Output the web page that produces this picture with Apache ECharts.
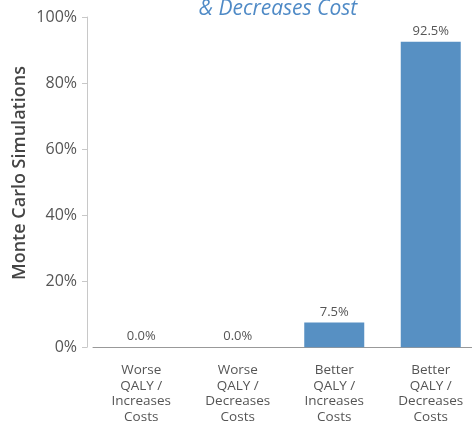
<!DOCTYPE html>
<html><head><meta charset="utf-8">
<script src="https://cdn.jsdelivr.net/npm/echarts@6/dist/echarts.min.js"></script>
<style>html,body{margin:0;padding:0;background:#fff;overflow:hidden}#c{width:479px;height:425px}</style>
</head><body><div id="c"></div>
<script>
const categories = ["Worse\nQALY /\nIncreases\nCosts","Worse\nQALY /\nDecreases\nCosts","Better\nQALY /\nIncreases\nCosts","Better\nQALY /\nDecreases\nCosts"];
const values = [0.0, 0.0, 7.5, 92.5];
const yTicks = [0, 20, 40, 60, 80, 100];
const yName = 'Monte Carlo Simulations';

const chart = echarts.init(document.getElementById('c'));
chart.setOption({
  animation: false,
  title: {
    text: "& Decreases Cost",
    left: 273, top: -6,
    textAlign: 'center',
    textStyle: {fontFamily: 'Open Sans', fontStyle: 'italic', fontWeight: 'normal', fontSize: 21, color: '#4f8ac6'}
  },
  graphic: [{
    type: 'text', x: 20, y: 173, rotation: Math.PI / 2,
    style: {text: yName, align: 'center', verticalAlign: 'middle',
      font: '600 18px "Open Sans"', fill: '#444'}
  }],
  grid: {left: 93, right: 0, top: 17, bottom: 77},
  xAxis: {
    type: 'category',
    data: categories,
    axisLine: {lineStyle: {color: '#999'}},
    axisTick: {show: false},
    axisLabel: {interval: 0, fontFamily: 'Open Sans', fontSize: 13.5, lineHeight: 15.7, color: '#555', margin: 15}
  },
  yAxis: {
    type: 'value', min: 0, max: 100, interval: 20,
    offset: 6,
    axisLine: {show: true, lineStyle: {color: '#c8c8c8'}},
    axisTick: {show: true, length: 5, lineStyle: {color: '#c8c8c8'}},
    splitLine: {show: false},
    axisLabel: {fontFamily: 'Open Sans', fontSize: 16, color: '#555', margin: 10,
      formatter: v => yTicks.includes(v) ? v + '%' : ''}
  },
  series: [{
    type: 'bar',
    data: values,
    barWidth: 60,
    itemStyle: {color: '#5790c3'},
    label: {show: true, position: 'top', distance: 4, fontFamily: 'Open Sans', fontSize: 13, color: '#555',
      formatter: p => p.value.toFixed(1) + '%'}
  }]
});
</script>
</body></html>
